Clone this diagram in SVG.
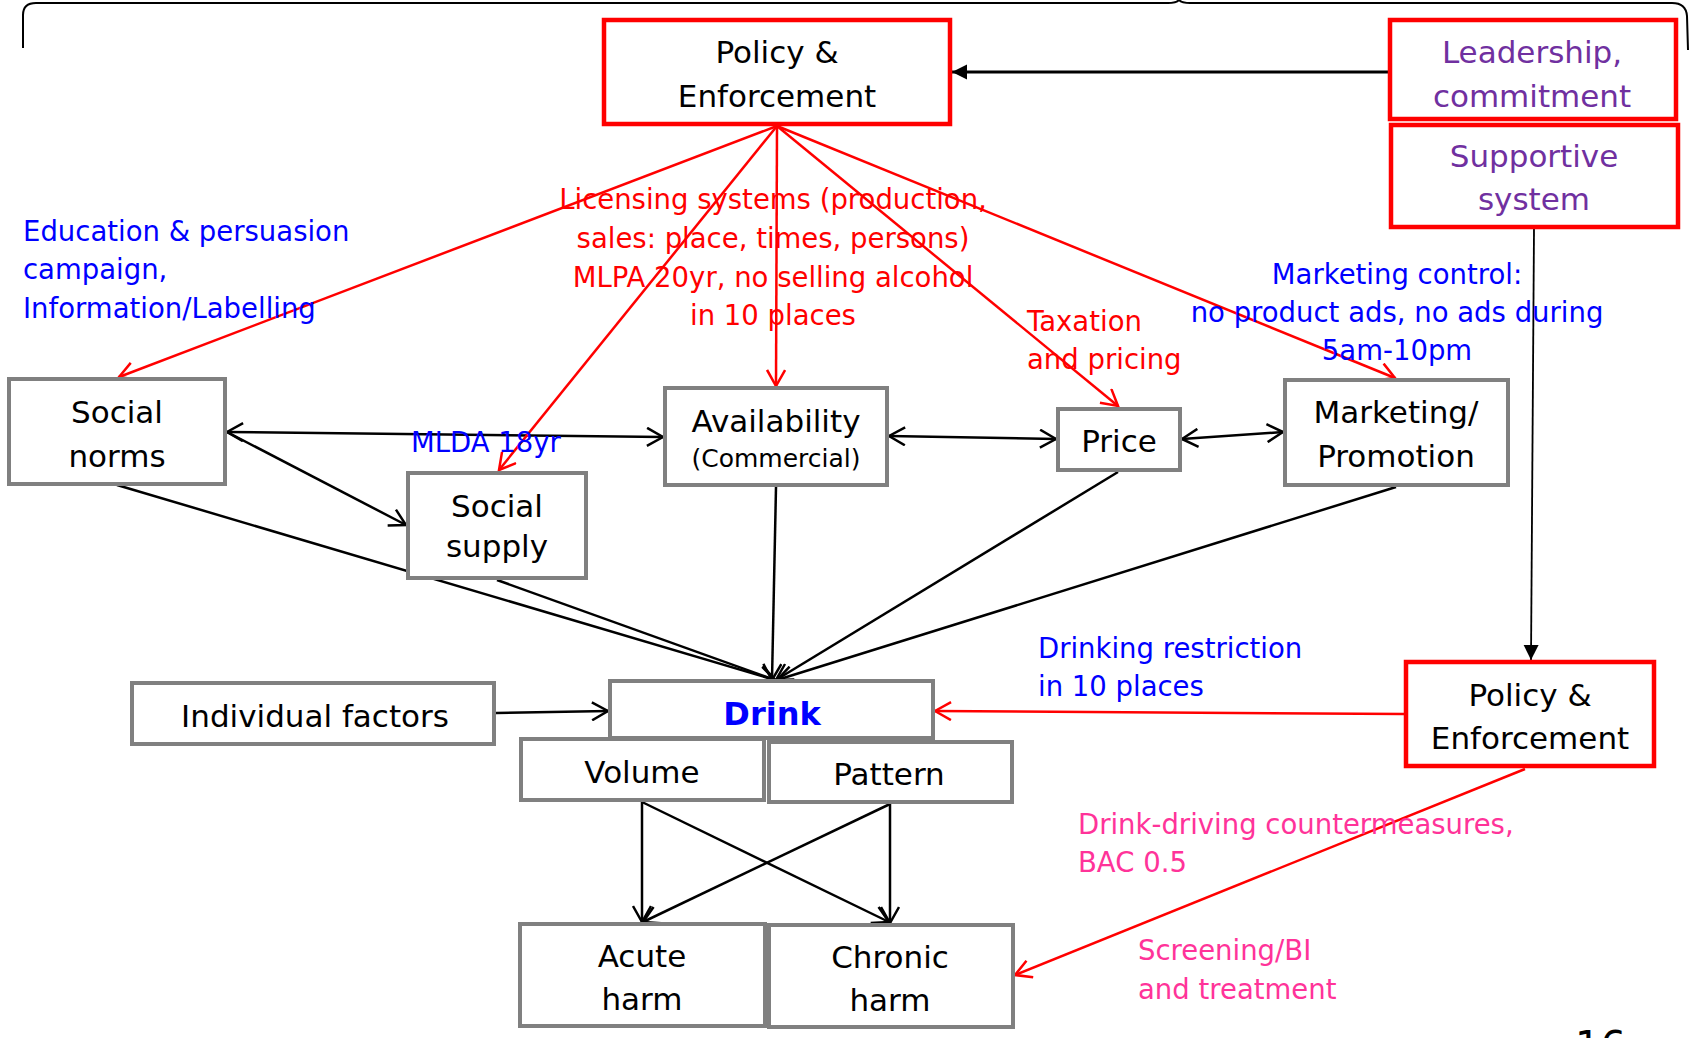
<svg xmlns="http://www.w3.org/2000/svg" width="1691" height="1038" viewBox="0 0 1691 1038">
<style>
.gbox{fill:#fff;stroke:#808080;stroke-width:4}
.rbox{fill:#fff;stroke:#ff0000;stroke-width:4.5}
.t{font-family:"DejaVu Sans",Verdana,sans-serif;font-size:31px;fill:#000;text-anchor:middle}
.ts{font-family:"DejaVu Sans",Verdana,sans-serif;font-size:25px;fill:#000;text-anchor:middle}
.tp{font-family:"DejaVu Sans",Verdana,sans-serif;font-size:31px;fill:#7030a0;text-anchor:middle}
.lb{font-family:"DejaVu Sans",Verdana,sans-serif;font-size:27.5px}
.blue{fill:#0000ff}
.red{fill:#ff0000}
.pink{fill:#ff3399}
.bl{stroke:#000;stroke-width:2.5;fill:none}
.rl{stroke:#ff0000;stroke-width:2.5;fill:none}
</style>
<defs>
<marker id="ob" markerUnits="userSpaceOnUse" viewBox="0 0 20 20" markerWidth="20" markerHeight="20" refX="18" refY="10" orient="auto-start-reverse"><path d="M2,1 L18,10 L2,19" fill="none" stroke="#000" stroke-width="2.5"/></marker>
<marker id="or" markerUnits="userSpaceOnUse" viewBox="0 0 20 20" markerWidth="20" markerHeight="20" refX="18" refY="10" orient="auto-start-reverse"><path d="M2,1 L18,10 L2,19" fill="none" stroke="#ff0000" stroke-width="2.5"/></marker>
<marker id="fb" markerUnits="userSpaceOnUse" viewBox="0 0 16 16" markerWidth="16" markerHeight="16" refX="15" refY="8" orient="auto"><path d="M0,0.5 L15,8 L0,15.5 Z" fill="#000"/></marker>
</defs>

<path id="brace" d="M23,48 L23,15 Q23,3 36,3 L1168,3 Q1176,3 1179,0 Q1182,3 1190,3 L1672,3 Q1686,3 1687,16 L1688,50" fill="none" stroke="#000" stroke-width="2"/>

<g id="connectors">
<line class="bl" x1="117" y1="485" x2="775" y2="680" marker-end="url(#ob)"/>
<line class="bl" x1="497" y1="580" x2="775" y2="680" marker-end="url(#ob)"/>
<line class="bl" x1="776" y1="487" x2="772" y2="680" marker-end="url(#ob)"/>
<line class="bl" x1="1118" y1="472" x2="776" y2="680" marker-end="url(#ob)"/>
<line class="bl" x1="1396" y1="487" x2="777" y2="680" marker-end="url(#ob)"/>
<line class="bl" x1="227" y1="432" x2="663" y2="437" marker-start="url(#ob)" marker-end="url(#ob)"/>
<line class="bl" x1="227" y1="432" x2="406" y2="525" marker-end="url(#ob)"/>
<line class="bl" x1="889" y1="436" x2="1056" y2="439" marker-start="url(#ob)" marker-end="url(#ob)"/>
<line class="bl" x1="1182" y1="439" x2="1283" y2="432" marker-start="url(#ob)" marker-end="url(#ob)"/>
<line class="bl" x1="496" y1="713" x2="608" y2="711" marker-end="url(#ob)"/>
<line class="bl" x1="642" y1="802" x2="642" y2="922" marker-end="url(#ob)"/>
<line class="bl" x1="642" y1="802" x2="889" y2="922" marker-end="url(#ob)"/>
<line class="bl" x1="890" y1="804" x2="890" y2="923" marker-end="url(#ob)"/>
<line class="bl" x1="890" y1="804" x2="643" y2="922" marker-end="url(#ob)"/>
<line x1="1388" y1="72" x2="952" y2="72" stroke="#000" stroke-width="2.8" marker-end="url(#fb)"/>
<line x1="1534" y1="229" x2="1531" y2="660" stroke="#000" stroke-width="1.8" marker-end="url(#fb)"/>
<line class="rl" x1="777" y1="126" x2="119" y2="377" marker-end="url(#or)"/>
<line class="rl" x1="777" y1="126" x2="499" y2="470" marker-end="url(#or)"/>
<line class="rl" x1="777" y1="126" x2="776" y2="386" marker-end="url(#or)"/>
<line class="rl" x1="777" y1="126" x2="1118" y2="406" marker-end="url(#or)"/>
<line class="rl" x1="777" y1="126" x2="1395" y2="378" marker-end="url(#or)"/>
<line class="rl" x1="1404" y1="714" x2="935" y2="711" marker-end="url(#or)"/>
<line class="rl" x1="1525" y1="769" x2="1015" y2="975" marker-end="url(#or)"/>
</g>

<g id="policy-top"><rect class="rbox" x="604" y="20" width="346" height="104"/><text class="t" x="777" y="63">Policy &amp;</text><text class="t" x="777" y="107">Enforcement</text></g>
<g id="leadership"><rect class="rbox" x="1390" y="20" width="286" height="99"/><text class="tp" x="1532" y="63">Leadership,</text><text class="tp" x="1532" y="107">commitment</text></g>
<g id="supportive"><rect class="rbox" x="1391" y="125" width="287" height="102"/><text class="tp" x="1534" y="167">Supportive</text><text class="tp" x="1534" y="210">system</text></g>
<g id="social-norms"><rect class="gbox" x="9" y="379" width="216" height="105"/><text class="t" x="117" y="423">Social</text><text class="t" x="117" y="467">norms</text></g>
<g id="social-supply"><rect class="gbox" x="408" y="473" width="178" height="105"/><text class="t" x="497" y="517">Social</text><text class="t" x="497" y="557">supply</text></g>
<g id="availability"><rect class="gbox" x="665" y="388" width="222" height="97"/><text class="t" x="776" y="432">Availability</text><text class="ts" x="776" y="467">(Commercial)</text></g>
<g id="price"><rect class="gbox" x="1058" y="409" width="122" height="61"/><text class="t" x="1119" y="452">Price</text></g>
<g id="marketing"><rect class="gbox" x="1285" y="380" width="223" height="105"/><text class="t" x="1396" y="423">Marketing/</text><text class="t" x="1396" y="467">Promotion</text></g>
<g id="individual"><rect class="gbox" x="132" y="683" width="362" height="61"/><text class="t" x="315" y="727">Individual factors</text></g>
<g id="drink"><rect class="gbox" x="610" y="681" width="323" height="57"/><text x="772" y="725" style="font-family:'DejaVu Sans',Verdana,sans-serif;font-size:32px;font-weight:bold;fill:#0000ff;text-anchor:middle">Drink</text></g>
<g id="volume"><rect class="gbox" x="521" y="739" width="243" height="61"/><text class="t" x="642" y="783">Volume</text></g>
<g id="pattern"><rect class="gbox" x="769" y="742" width="243" height="60"/><text class="t" x="889" y="785">Pattern</text></g>
<g id="acute"><rect class="gbox" x="520" y="924" width="245" height="102"/><text class="t" x="642" y="967">Acute</text><text class="t" x="642" y="1010">harm</text></g>
<g id="chronic"><rect class="gbox" x="769" y="925" width="244" height="102"/><text class="t" x="890" y="968">Chronic</text><text class="t" x="890" y="1011">harm</text></g>
<g id="policy-br"><rect class="rbox" x="1406" y="662" width="248" height="104"/><text class="t" x="1530" y="706">Policy &amp;</text><text class="t" x="1530" y="749">Enforcement</text></g>

<g id="labels">
<text class="lb blue" x="23" y="241">Education &amp; persuasion</text>
<text class="lb blue" x="23" y="279">campaign,</text>
<text class="lb blue" x="23" y="318">Information/Labelling</text>
<text class="lb red" x="773" y="209" text-anchor="middle">Licensing systems (production,</text>
<text class="lb red" x="773" y="248" text-anchor="middle">sales: place, times, persons)</text>
<text class="lb red" x="773" y="287" text-anchor="middle">MLPA 20yr, no selling alcohol</text>
<text class="lb red" x="773" y="325" text-anchor="middle">in 10 places</text>
<text class="lb blue" x="411" y="452">MLDA 18yr</text>
<text class="lb red" x="1027" y="331">Taxation</text>
<text class="lb red" x="1027" y="369">and pricing</text>
<text class="lb blue" x="1397" y="284" text-anchor="middle">Marketing control:</text>
<text class="lb blue" x="1397" y="322" text-anchor="middle">no product ads, no ads during</text>
<text class="lb blue" x="1397" y="360" text-anchor="middle">5am-10pm</text>
<text class="lb blue" x="1038" y="658">Drinking restriction</text>
<text class="lb blue" x="1038" y="696">in 10 places</text>
<text class="lb pink" x="1078" y="834">Drink-driving countermeasures,</text>
<text class="lb pink" x="1078" y="872">BAC 0.5</text>
<text class="lb pink" x="1138" y="960">Screening/BI</text>
<text class="lb pink" x="1138" y="999">and treatment</text>
<text x="1575" y="1060" style="font-family:'DejaVu Sans',Verdana,sans-serif;font-size:40px;fill:#000">16</text>
</g>
</svg>
